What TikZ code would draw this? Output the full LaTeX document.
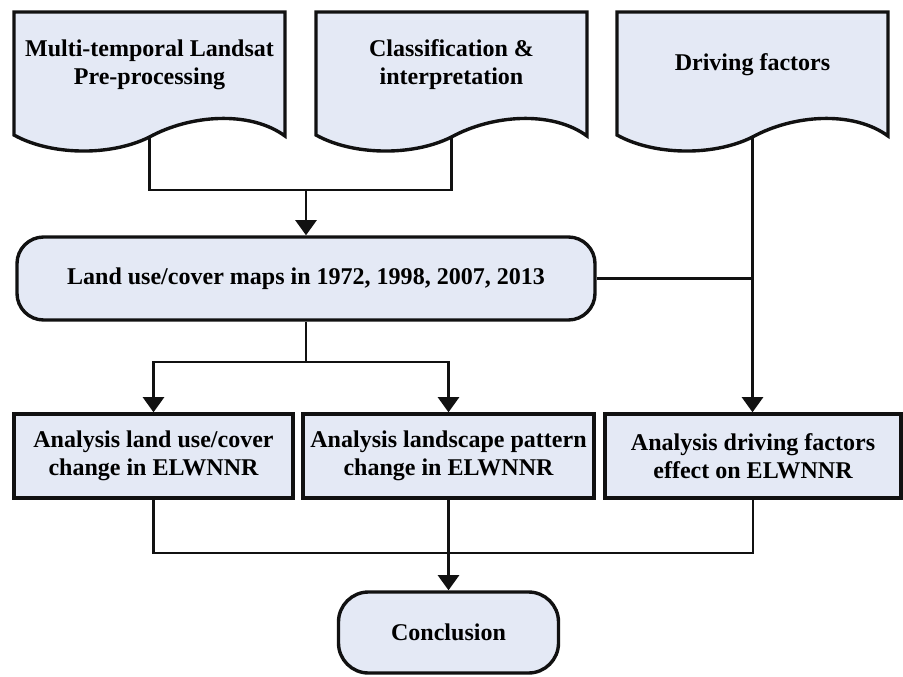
\documentclass[tikz,border=0pt]{standalone}
\usepackage{fontspec}
\setmainfont{Liberation Serif}
\usetikzlibrary{arrows.meta, positioning, calc}
\definecolor{BoxFill}{HTML}{E4E9F5}
\definecolor{LineBlack}{HTML}{111111}

% wavy document box: name, centre of the text, text
\newcommand{\docshape}[3]{%
  \begin{scope}[shift={#2}]
    \draw[docline] (-135.5,-53) -- (135.5,-53) -- (135.5,71)
      .. controls (100,45) and (40,50) .. (0,72)
      .. controls (-40,92) and (-100,90) .. (-135.5,70) -- cycle;
    \coordinate (#1-out) at (0,72);
  \end{scope}
  \node[doctext] (#1) at #2 {#3};}

\begin{document}
\begin{tikzpicture}[
    x=0.03cm, y=-0.03cm,
    docline/.style={fill=BoxFill, draw=LineBlack, line width=2.9pt},
    doctext/.style={align=center, font=\bfseries\fontsize{20.5}{24}\selectfont},
    procbox/.style={rectangle, fill=BoxFill, draw=LineBlack, line width=2.9pt, align=center,
        minimum height=2.52cm, inner sep=0pt, font=\bfseries\fontsize{20.5}{24}\selectfont},
    termbox/.style={procbox, rounded corners=0.8cm},
    link/.style={draw=LineBlack, line width=2.4pt},
    arr/.style={link, -{Triangle[length=13pt, width=18pt]}}
]
\useasboundingbox (0,0) rectangle (903,676);

\docshape{landsat}{(149.5,65)}{Multi-temporal Landsat\\Pre-processing}
\docshape{classif}{(451.5,65)}{Classification \&\\interpretation}
\docshape{driving}{(752.5,65)}{Driving factors}

\node[termbox, minimum width=17.34cm, minimum height=2.49cm] (maps) at (306,278.5)
    {Land use/cover maps in 1972, 1998, 2007, 2013};

\node[procbox, minimum width=8.37cm] (anLand) at (153.5,456) {Analysis land use/cover\\change in ELWNNR};
\node[procbox, minimum width=8.73cm] (anPattern) at (448.5,456) {Analysis landscape pattern\\change in ELWNNR};
\node[procbox, minimum width=8.88cm] (anDriving) at (753,456) {Analysis driving factors\\effect on ELWNNR};

\node[termbox, minimum width=6.6cm, minimum height=2.43cm, rounded corners=0.9cm] (concl) at (448.5,632.5) {Conclusion};

\coordinate (joinTop) at (306,190);
\coordinate (joinMid) at (306,362);
\coordinate (joinBot) at (448.5,553);

% inputs to the maps
\draw[link] (landsat-out) |- (joinTop) -| (classif-out);
\draw[arr] (joinTop) -- (maps.north);
\draw[link] (maps.east) -- (maps.east -| driving-out);
\draw[arr] (driving-out) -- (driving-out |- anDriving.north);

% maps to the analyses
\draw[link] (maps.south) -- (joinMid);
\draw[arr] (joinMid) -| (anLand.north);
\draw[arr] (joinMid) -| (anPattern.north);

% analyses to the conclusion
\draw[link] (anLand.south) |- (joinBot) -| (anDriving.south);
\draw[arr] (anPattern.south) -- (concl.north);
\end{tikzpicture}
\end{document}
